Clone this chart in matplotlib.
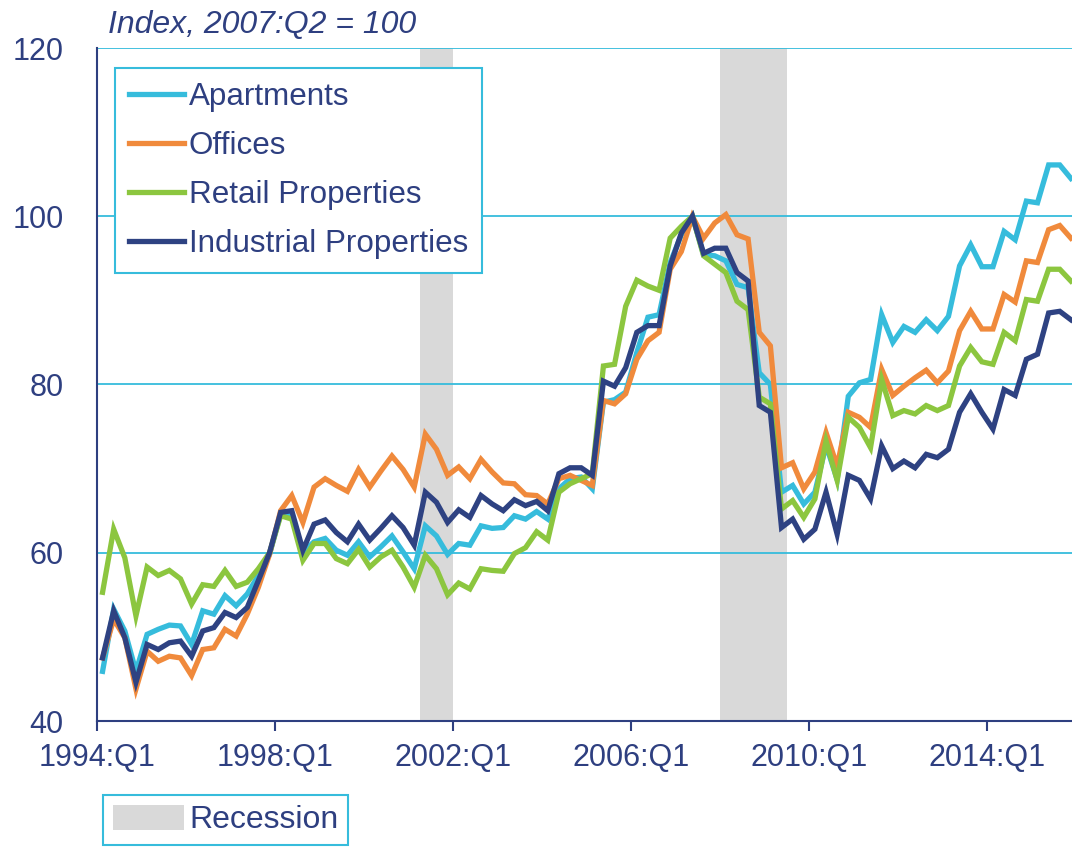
import matplotlib
matplotlib.use("Agg")
import matplotlib.pyplot as plt
from matplotlib.patches import Patch

plt.rcParams['font.family'] = ['Liberation Sans', 'DejaVu Sans']

# Quarterly index values, 2007:Q2 = 100, starting 1994:Q1
apartments = [45.9, 53.3, 50.7, 45.9, 50.3, 50.9, 51.4, 51.3, 49.1, 53.1, 52.7, 54.9, 53.7, 55.1, 57.3, 59.8,
              64.6, 64.4, 60.1, 61.3, 61.7, 60.3, 59.7, 61.3, 59.5, 60.7, 62.0, 60.1, 58.1, 63.2, 62.0, 59.8,
              61.1, 60.9, 63.2, 62.9, 63.0, 64.4, 64.0, 64.9, 64.0, 67.6, 68.8, 69.0, 67.6, 77.9, 78.2, 79.1,
              83.8, 88.0, 88.3, 94.5, 97.8, 100.0, 95.4, 95.3, 94.7, 91.9, 91.5, 81.4, 80.0, 67.2, 68.0, 65.8,
              67.2, 72.8, 68.7, 78.6, 80.2, 80.6, 88.3, 85.0, 86.9, 86.2, 87.7, 86.4, 88.1, 94.1, 96.6, 94.0,
              94.0, 98.2, 97.2, 101.8, 101.6, 106.1, 106.1, 104.5]
offices = [47.5, 52.1, 49.9, 43.8, 48.3, 47.1, 47.7, 47.5, 45.4, 48.5, 48.7, 50.9, 50.1, 52.7, 55.9, 59.8,
           65.0, 66.8, 63.6, 67.8, 68.8, 68.0, 67.3, 69.9, 67.8, 69.7, 71.5, 69.9, 67.8, 74.1, 72.3, 69.2,
           70.2, 68.8, 71.1, 69.6, 68.3, 68.2, 66.9, 66.8, 65.8, 68.8, 69.2, 68.6, 68.0, 78.1, 77.7, 78.9,
           83.0, 85.2, 86.2, 93.7, 95.8, 100.0, 97.4, 99.2, 100.2, 97.8, 97.3, 86.2, 84.6, 70.1, 70.7, 67.6,
           69.6, 74.3, 70.3, 76.7, 76.1, 74.9, 81.8, 78.7, 79.8, 80.8, 81.7, 80.2, 81.6, 86.4, 88.7, 86.6,
           86.6, 90.7, 89.8, 94.7, 94.5, 98.4, 98.9, 97.4]
retail = [55.3, 62.8, 59.4, 52.5, 58.3, 57.3, 57.9, 56.9, 53.9, 56.2, 56.0, 57.9, 56.0, 56.5, 58.1, 60.0,
          64.4, 64.0, 59.1, 61.1, 61.1, 59.3, 58.7, 60.4, 58.3, 59.5, 60.3, 58.3, 55.9, 59.7, 58.1, 55.0,
          56.4, 55.7, 58.1, 57.9, 57.8, 59.9, 60.6, 62.5, 61.5, 67.2, 68.2, 68.8, 69.4, 82.2, 82.4, 89.3,
          92.4, 91.7, 91.2, 97.4, 98.8, 100.0, 95.3, 94.3, 93.3, 89.9, 88.9, 78.5, 77.7, 65.2, 66.2, 64.2,
          66.4, 73.3, 68.6, 76.1, 74.9, 72.5, 80.6, 76.3, 76.9, 76.5, 77.5, 76.9, 77.5, 82.2, 84.4, 82.7,
          82.4, 86.2, 85.2, 90.1, 89.9, 93.7, 93.7, 92.3]
industrial = [47.5, 53.1, 49.9, 44.6, 49.1, 48.5, 49.3, 49.5, 47.7, 50.7, 51.1, 52.9, 52.3, 53.5, 56.7, 60.0,
              64.8, 65.0, 60.3, 63.4, 63.9, 62.4, 61.3, 63.4, 61.5, 62.9, 64.4, 63.0, 60.9, 67.2, 66.0, 63.6,
              65.1, 64.2, 66.8, 65.8, 65.0, 66.3, 65.6, 66.1, 65.0, 69.4, 70.1, 70.1, 69.2, 80.4, 79.8, 82.0,
              86.2, 87.0, 87.0, 94.1, 98.0, 100.0, 95.6, 96.2, 96.2, 93.3, 92.3, 77.5, 76.7, 63.0, 64.0, 61.6,
              62.8, 67.2, 62.2, 69.2, 68.6, 66.4, 72.7, 70.0, 70.9, 70.1, 71.7, 71.3, 72.3, 76.7, 78.9, 76.7,
              74.7, 79.4, 78.7, 83.0, 83.6, 88.5, 88.7, 87.7]

series_names = ['Apartments', 'Offices', 'Retail Properties', 'Industrial Properties']
series_colors = ['#36BCDC', '#F08A3C', '#8CC63F', '#2E4282']

# Recessions (first and last quarter)
rec_start = ['2001:Q2', '2008:Q1']
rec_end = ['2001:Q4', '2009:Q2']

quarters = ['%d:Q%d' % (1994 + k // 4, k % 4 + 1) for k in range(len(apartments))]
tick_labels = ['1994:Q1', '1998:Q1', '2002:Q1', '2006:Q1', '2010:Q1', '2014:Q1']

navy = '#2E3F80'
cyan = '#36BCDC'

fig = plt.figure(figsize=(10.72, 8.47), dpi=100)
ax = fig.add_axes([97 / 1072, 1 - 721 / 847, 975 / 1072, 673 / 847])

# recession shading, whole quarters
for s, e in zip(rec_start, rec_end):
    ax.axvspan(quarters.index(s), quarters.index(e) + 1, color='#D9D9D9', lw=0, zorder=0)

xs = [k + 0.5 for k in range(len(quarters))]
for vals, name, col in zip([apartments, offices, retail, industrial], series_names, series_colors):
    ax.plot(xs, vals, color=col, lw=3.8, label=name, solid_joinstyle='miter', zorder=3)

ax.set_xlim(0, 87.6)
ax.set_ylim(40, 120)
ax.set_yticks([40, 60, 80, 100, 120])
ax.yaxis.grid(True, color=cyan, lw=1.3, zorder=1)
ax.set_axisbelow(True)
ax.set_xticks([quarters.index(t) for t in tick_labels])
ax.set_xticklabels(tick_labels)

for side in ['top', 'right']:
    ax.spines[side].set_visible(False)
for side in ['left', 'bottom']:
    ax.spines[side].set_color(navy)
    ax.spines[side].set_linewidth(1.5)

ax.tick_params(axis='y', length=0, pad=24, labelsize=22, labelcolor=navy)
ax.tick_params(axis='x', length=7, width=1.5, color=navy, pad=9, labelsize=22, labelcolor=navy)

fig.text(108 / 1072, 1 - 33 / 847, 'Index, 2007:Q2 = 100', fontsize=23, style='italic',
         color=navy, va='baseline', ha='left')

leg = ax.legend(loc='upper left', bbox_to_anchor=(115 / 1072, 1 - 68 / 847),
                bbox_transform=fig.transFigure, fontsize=22.6, frameon=True, fancybox=False,
                framealpha=1, handlelength=1.75, handletextpad=0.15, labelspacing=0.6,
                borderpad=0.45, borderaxespad=0)
leg.get_frame().set_edgecolor(cyan)
leg.get_frame().set_linewidth(1.5)
for t in leg.get_texts():
    t.set_color(navy)
leg.set_zorder(5)

rec_leg = fig.legend(handles=[Patch(facecolor='#D9D9D9', edgecolor='none', label='Recession')],
                     loc='upper left', bbox_to_anchor=(103 / 1072, 1 - 795 / 847),
                     fontsize=23, frameon=True, fancybox=False, framealpha=1, handlelength=2.25,
                     handleheight=0.85, handletextpad=0.15, borderpad=0.3, borderaxespad=0)
rec_leg.get_frame().set_edgecolor(cyan)
rec_leg.get_frame().set_linewidth(1.5)
for t in rec_leg.get_texts():
    t.set_color(navy)

fig.savefig('out.png', dpi=100)
